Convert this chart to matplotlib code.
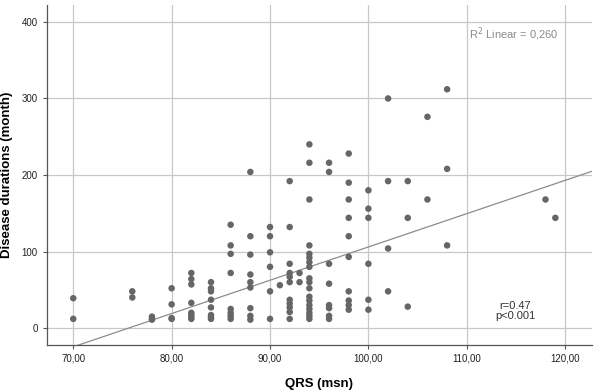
import numpy as np
import matplotlib
matplotlib.use("Agg")
import matplotlib.pyplot as plt

plt.rcParams['font.family'] = ['Liberation Sans', 'DejaVu Sans']

# QRS (msn) -> disease durations (month)
columns = {
    70: [39, 12],
    76: [48, 40],
    78: [15, 12, 11],
    80: [52, 31, 13, 12],
    82: [72, 64, 57, 33, 20, 17, 14, 12],
    84: [60, 52, 48, 37, 27, 17, 14, 12],
    86: [135, 108, 97, 72, 25, 20, 16, 12],
    88: [204, 120, 96, 70, 60, 53, 26, 16, 11],
    90: [132, 120, 99, 80, 48, 12],
    91: [56],
    92: [192, 132, 84, 72, 67, 60, 37, 32, 27, 21, 12],
    93: [72, 60],
    94: [240, 216, 168, 108, 97, 92, 86, 80, 65, 60, 52, 41, 36, 30, 25, 20, 16, 12],
    96: [216, 204, 84, 58, 30, 26, 16, 12],
    98: [228, 190, 168, 144, 120, 93, 48, 36, 30, 24],
    100: [180, 156, 144, 84, 37, 24],
    102: [300, 192, 104, 48],
    104: [192, 144, 28],
    106: [276, 168],
    108: [312, 208, 108],
    118: [168],
    119: [144],
}
qrs = np.array([k for k, v in columns.items() for _ in v], dtype=float)
duration = np.array([d for v in columns.values() for d in v], dtype=float)

# linear fit as drawn in the figure
fit_slope = 4.35
fit_intercept = -329.0

xticks = [70, 80, 90, 100, 110, 120]
xtick_labels = ["70,00", "80,00", "90,00", "100,00", "110,00", "120,00"]
yticks = [0, 100, 200, 300, 400]

fig = plt.figure(figsize=(5.97, 3.90), dpi=100)
ax = fig.add_axes([0.0782, 0.116, 0.913, 0.871])

ax.set_xlim(67.3, 122.7)
ax.set_ylim(-21.8, 422)

ax.grid(True, color='#c8c8c8', linewidth=0.9)
ax.set_axisbelow(True)

ax.scatter(qrs, duration, s=22, color='#666666', edgecolors='none', zorder=3)

xs = np.array([67.3, 122.7])
ax.plot(xs, fit_intercept + fit_slope * xs, color='#8c8c8c', linewidth=0.9, zorder=2)

ax.set_xticks(xticks)
ax.set_xticklabels(xtick_labels)
ax.set_yticks(yticks)
ax.tick_params(labelsize=7, length=3, color='#555555', labelcolor='#222222')

for side in ['top', 'right']:
    ax.spines[side].set_visible(False)
for side in ['left', 'bottom']:
    ax.spines[side].set_color('#555555')
    ax.spines[side].set_linewidth(0.9)

ax.set_xlabel('QRS (msn)', fontsize=9.5, fontweight='bold', labelpad=10)
ax.set_ylabel('Disease durations (month)', fontsize=9.5, fontweight='bold', labelpad=6)

ax.text(469 / 597, 1 - 34 / 390, r'R$^2$ Linear = 0,260', transform=fig.transFigure,
        fontsize=8, color='#8c8c8c', va='center', ha='left')
ax.text(515 / 597, 1 - 311 / 390, 'r=0.47\np<0.001', transform=fig.transFigure,
        fontsize=8, color='#333333', va='center', ha='center', linespacing=0.95)

fig.savefig('out.png', dpi=100)
